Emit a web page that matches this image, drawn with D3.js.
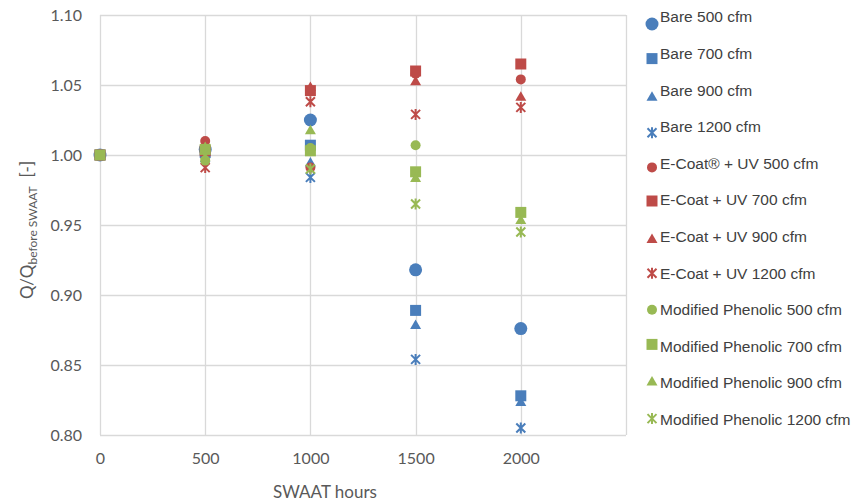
<!DOCTYPE html>
<html>
<head>
<meta charset="utf-8">
<script src="https://cdn.jsdelivr.net/npm/d3@7/dist/d3.min.js"></script>
<style>
  html, body { margin: 0; padding: 0; background: #fff; }
  svg { display: block; }
</style>
</head>
<body>
<svg id="chart" width="862" height="504"></svg>
<script>
// SWAAT exposure hours at which airflow was measured
const hours = [0, 500, 1000, 1500, 2000];

// Airflow ratio Q / Q(before SWAAT) per coating and fan airflow
const bare500      = [1.000, 1.004, 1.025, 0.918, 0.876];
const bare700      = [1.000, 1.002, 1.007, 0.889, 0.828];
const bare900      = [1.000, 1.001, 0.995, 0.879, 0.824];
const bare1200     = [1.000, 0.998, 0.984, 0.854, 0.805];
const ecoat500     = [1.000, 1.010, 0.991, 1.058, 1.054];
const ecoat700     = [1.000, 1.003, 1.046, 1.060, 1.065];
const ecoat900     = [1.000, 1.007, 1.049, 1.053, 1.042];
const ecoat1200    = [1.000, 0.991, 1.038, 1.029, 1.034];
const phenolic500  = [1.000, 0.996, 1.005, 1.007, null];
const phenolic700  = [1.000, 1.004, 1.003, 0.988, 0.959];
const phenolic900  = [null, 1.006, 1.018, 0.984, 0.954];
const phenolic1200 = [null, 1.000, 0.990, 0.965, 0.945];

const seriesNames = [
  "Bare 500 cfm", "Bare 700 cfm", "Bare 900 cfm", "Bare 1200 cfm",
  "E-Coat\u00AE + UV 500 cfm", "E-Coat + UV 700 cfm", "E-Coat + UV 900 cfm", "E-Coat + UV 1200 cfm",
  "Modified Phenolic 500 cfm", "Modified Phenolic 700 cfm", "Modified Phenolic 900 cfm", "Modified Phenolic 1200 cfm"
];
const seriesValues = [
  bare500, bare700, bare900, bare1200,
  ecoat500, ecoat700, ecoat900, ecoat1200,
  phenolic500, phenolic700, phenolic900, phenolic1200
];

const xTicks = [0, 500, 1000, 1500, 2000];
const yTicks = [0.80, 0.85, 0.90, 0.95, 1.00, 1.05, 1.10];

// Styling
const blue = "#4a7ebb", red = "#be4b48", green = "#98b954";
const colors = [blue, blue, blue, blue, red, red, red, red, green, green, green, green];
const shapes = ["circle", "square", "triangle", "star"];

const svg = d3.select("#chart");
const margin = { left: 100, right: 236, top: 15, bottom: 69 };
const W = 862, H = 504;
const x0 = margin.left, x1 = W - margin.right;
const y0 = H - margin.bottom, y1 = margin.top;

const x = d3.scaleLinear().domain([0, 2500]).range([x0, x1]);
const y = d3.scaleLinear().domain([0.80, 1.10]).range([y0, y1]);

const gridColor = "#d9d9d9";
const textColor = "#595959";
const tickFont = "Lato, 'Open Sans', sans-serif";

// Gridlines
const grid = svg.append("g");
grid.selectAll("line.h").data(yTicks).join("line")
  .attr("x1", x0).attr("x2", x1)
  .attr("y1", d => Math.round(y(d)) + 0.5).attr("y2", d => Math.round(y(d)) + 0.5)
  .attr("stroke", gridColor).attr("stroke-width", 1.3);
grid.selectAll("line.v").data(xTicks.concat([2500])).join("line")
  .attr("y1", y0).attr("y2", y1)
  .attr("x1", d => Math.round(x(d)) + 0.5).attr("x2", d => Math.round(x(d)) + 0.5)
  .attr("stroke", gridColor).attr("stroke-width", 1.3);

// Axes (tick labels only)
const yAxis = d3.axisLeft(y).tickValues(yTicks).tickFormat(d3.format(".2f")).tickSize(0).tickPadding(18);
const gy = svg.append("g").attr("transform", `translate(${x0},0)`).call(yAxis);
gy.select(".domain").remove();
gy.selectAll("text").attr("fill", textColor).style("font-family", tickFont).style("font-size", "16px");

const xAxis = d3.axisBottom(x).tickValues(xTicks).tickFormat(d3.format("d")).tickSize(0).tickPadding(18);
const gx = svg.append("g").attr("transform", `translate(0,${y0})`).call(xAxis);
gx.select(".domain").remove();
gx.selectAll("text").attr("fill", textColor).style("font-family", tickFont).style("font-size", "16px");

// Axis titles
svg.append("text")
  .attr("x", 325).attr("y", 498)
  .attr("text-anchor", "middle")
  .attr("fill", textColor)
  .style("font-family", tickFont).style("font-size", "17px")
  .text("SWAAT hours");

const yTitle = svg.append("text")
  .attr("transform", "translate(33,230) rotate(-90)")
  .attr("text-anchor", "middle")
  .attr("fill", textColor)
  .style("font-family", tickFont).style("font-size", "17px");
yTitle.append("tspan").text("Q/Q");
yTitle.append("tspan").attr("dy", 4).style("font-size", "12px").text("before SWAAT");
yTitle.append("tspan").attr("dy", -4).text("\u00A0\u00A0[-]");

// Marker drawing
function markerPath(shape, big) {
  if (shape === "circle") {
    const r = big ? 6.5 : 5;
    return `M${-r},0A${r},${r} 0 1,0 ${r},0A${r},${r} 0 1,0 ${-r},0Z`;
  }
  if (shape === "square") {
    const s = 5.5;
    return `M${-s},${-s}H${s}V${s}H${-s}Z`;
  }
  if (shape === "triangle") {
    return "M0,-5L5.5,4.5L-5.5,4.5Z";
  }
  // star: X with a vertical bar
  const a = 4.5;
  return `M${-a},${-a}L${a},${a}M${a},${-a}L${-a},${a}M0,-5.5L0,5.5`;
}

function drawMarker(g, i, big) {
  const shape = shapes[i % 4];
  const p = g.append("path").attr("d", markerPath(shape, big));
  if (shape === "star") {
    p.attr("fill", "none").attr("stroke", colors[i]).attr("stroke-width", 2);
  } else {
    p.attr("fill", colors[i]);
  }
}

const pts = svg.append("g");
seriesValues.forEach((vals, i) => {
  hours.forEach((h, j) => {
    const v = vals[j];
    if (v == null) return;
    const g = pts.append("g").attr("transform", `translate(${x(h)},${y(v)})`);
    drawMarker(g, i, i === 0);
  });
});

// Legend
const legendTop = 17, legendStep = 36.6;
const legendOffsets = [7, 5, 6, 6, 4, 1, 2, 0, 0, -2, -2, -1];
const legend = svg.append("g");
seriesNames.forEach((name, i) => {
  const cy = legendTop + i * legendStep;
  const g = legend.append("g").attr("transform", `translate(652,${cy + legendOffsets[i]})`);
  drawMarker(g, i, i === 0);
  legend.append("text")
    .attr("x", 660).attr("y", cy)
    .attr("dy", "0.35em")
    .attr("fill", "#404040")
    .style("font-family", "'Liberation Sans', Arial, sans-serif")
    .style("font-size", "15.5px")
    .text(name);
});
</script>
</body>
</html>
